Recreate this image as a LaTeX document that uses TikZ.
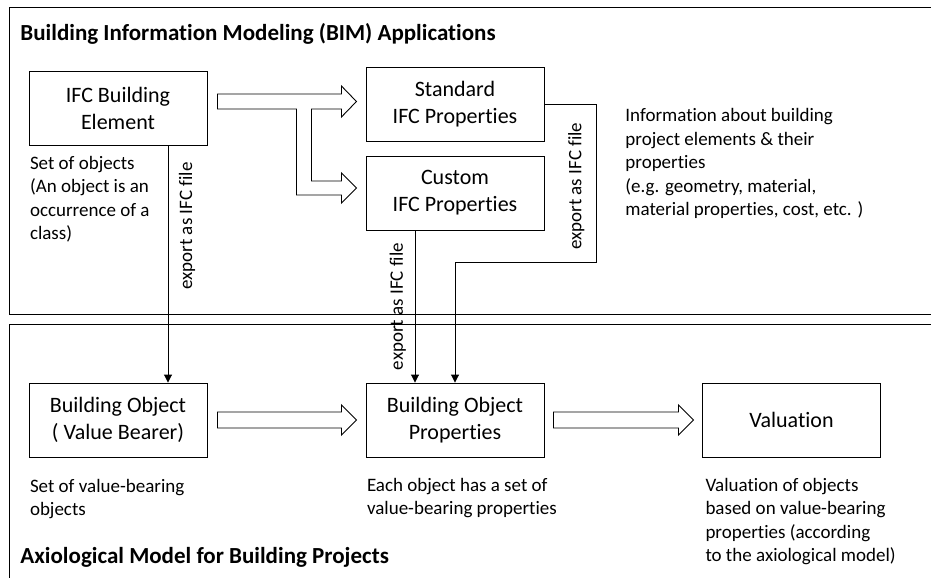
\documentclass[tikz,border=0pt]{standalone}
\usepackage{fontspec}
\setmainfont{Carlito}[Ligatures=NoCommon]
\usetikzlibrary{positioning,arrows.meta,calc}

\begin{document}
\begin{tikzpicture}[x=1pt,y=-1pt,>={Triangle[width=8pt,length=8pt]},
    every path/.style={line width=0.9pt},
    box/.style={draw,minimum width=178pt,minimum height=74pt,align=center,inner sep=0pt,font=\fontsize{22}{27}\selectfont},
    note/.style={align=left,inner sep=0pt,font=\fontsize{19}{23.5}\selectfont},
    lbl/.style={rotate=90,inner sep=0pt,font=\fontsize{19}{23}\selectfont},
    title/.style={anchor=base west,inner sep=0pt,font=\fontsize{23}{28}\selectfont\bfseries},
    pics/fatarrow/.style={code={
        \draw (0,-8) -- (#1,-8) -- (#1,-15) -- ({#1+15},0) -- (#1,15) -- (#1,8) -- (0,8) -- cycle;}}]
    \useasboundingbox (0,0) rectangle (931,578);

    % the two frames
    \draw (931,7) -- (9,7) -- (9,314) -- (931,314);
    \draw (931,324) -- (9,324) -- (9,578);
    \node[title] (bim) at (20,41) {Building Information Modeling (BIM) Applications};
    \node[title] (axio) at (20,563) {Axiological Model for Building Projects};

    % BIM side
    \node[box] (ifc) at (118,108) {IFC Building\\Element};
    \node[box] (std) at (455,104) {Standard\\IFC Properties};
    \node[box] (cust) at (455,193) {Custom\\IFC Properties};
    \node[note,below right=10pt and 1pt of ifc.south west] (setobj) {Set of objects\\(An object is an\\occurrence of a\\class)};
    \node[note,anchor=north west] (info) at (625,108) {Information about building\\project elements \& their\\properties\\(e.g. geometry, material,\\material properties, cost, etc. )};

    % axiological side
    \node[box] (obj) at (118,420) {Building Object\\( Value Bearer)};
    \node[box] (prop) at (455,420) {Building Object\\Properties};
    \node[box] (val) at (791.5,420) {Valuation};
    \node[note,below right=21pt and 1pt of obj.south west] (setval) {Set of value-bearing\\objects};
    \node[note,below right=20pt and 1pt of prop.south west] (each) {Each object has a set of\\value-bearing properties};
    \node[note,below right=20pt and 3pt of val.south west] (valnote) {Valuation of objects\\based on value-bearing\\properties (according\\to the axiological model)};

    % block arrows
    \draw ([shift={(10,-14)}]ifc.east) -- ++(124,0) -- ++(0,-8) -- ++(15,15.5) -- ++(-15,15.5) -- ++(0,-8)
        -- ++(-30,0) -- ++(0,72) -- ++(30,0) -- ++(0,-8) -- ++(15,15) -- ++(-15,15) -- ++(0,-8)
        -- ++(-45,0) -- ++(0,-86) -- ++(-79,0) -- cycle;
    \pic (a1) at ([xshift=10pt]obj.east) {fatarrow=124};
    \pic (a2) at ([xshift=9pt]prop.east) {fatarrow=125};

    % exports
    \draw[->] ([xshift=50pt]ifc.south) -- node[lbl,pos=.34,anchor=north,outer sep=11pt] {export as IFC file} ([xshift=50pt]obj.north);
    \draw[->] ([xshift=-40pt]cust.south) -- node[lbl,midway,anchor=south,outer sep=9pt] {export as IFC file} ([xshift=-40pt]prop.north);
    \draw[->] (std.east) -- ++(52,0) -- node[lbl,pos=.52,anchor=south,outer sep=12pt] {export as IFC file} ++(0,158) -| (prop.north);
\end{tikzpicture}
\end{document}
